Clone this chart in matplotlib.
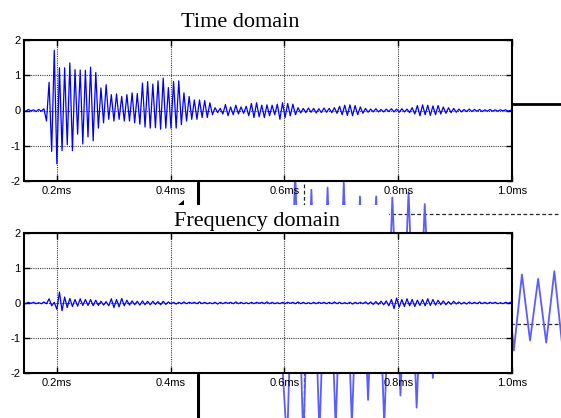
import matplotlib.pyplot as plt
from matplotlib.patches import Rectangle, Polygon
import numpy as np

plt.rcParams['font.family'] = 'Liberation Sans'
plt.rcParams['axes.unicode_minus'] = False

# time axis in ms, one entry per half period of the ringing
t_start = 0.1405
t_step = 0.00456

tick_ms = [0.2, 0.4, 0.6, 0.8, 1.0]
tick_labels = ['0.2ms', '0.4ms', '0.6ms', '0.8ms', '1.0ms']
y_ticks = [-2, -1, 0, 1, 2]

# alternating extremes
time_peaks = [
    0.02, -0.02, 0.03, -0.01, 0.02, -0.03, 0.03, -0.02, 0.05, -0.30,
    0.80, -1.16, 1.71, -1.51, 1.21, -1.14, 1.21, -0.97, 1.35, -1.14,
    1.16, -0.67, 1.15, -0.95, 1.14, -0.75, 1.23, -0.86, 1.08, -0.50,
    0.64, -0.35, 0.73, -0.25, 0.45, -0.30, 0.47, -0.25, 0.40, -0.30,
    0.45, -0.30, 0.50, -0.35, 0.48, -0.39, 0.78, -0.47, 0.82, -0.50,
    0.75, -0.49, 0.84, -0.53, 0.92, -0.50, 0.65, -0.50, 0.82, -0.50,
    0.84, -0.40, 0.50, -0.30, 0.40, -0.25, 0.30, -0.25, 0.30, -0.20,
    0.28, -0.20, 0.22, -0.12, 0.08, -0.06, 0.06, -0.10, 0.17, -0.15,
    0.10, -0.12, 0.15, -0.10, 0.10, -0.08, 0.12, -0.15, 0.20, -0.20,
    0.22, -0.18, 0.15, -0.20, 0.16, -0.15, 0.15, -0.12, 0.18, -0.25,
    0.22, -0.20, 0.20, -0.15, 0.18, -0.12, 0.08, -0.07, 0.06, -0.06,
    0.07, -0.05, 0.06, -0.07, 0.05, -0.06, 0.07, -0.05, 0.06, -0.06,
    0.08, -0.08, 0.12, -0.12, 0.15, -0.14, 0.16, -0.15, 0.14, -0.12,
    0.10, -0.08, 0.06, -0.05, 0.04, -0.04, 0.05, -0.04, 0.03, -0.04,
    0.04, -0.03, 0.05, -0.04, 0.04, -0.05, 0.05, -0.04, 0.04, -0.06,
    0.08, -0.10, 0.14, -0.15, 0.16, -0.12, 0.15, -0.14, 0.13, -0.12,
    0.14, -0.10, 0.10, -0.08, 0.08, -0.06, 0.06, -0.05, 0.04, -0.04,
    0.03, -0.03, 0.04, -0.03, 0.03, -0.02, 0.03, -0.03, 0.02, -0.02,
    0.03, -0.02, 0.02, -0.02, 0.02, -0.01, 0.02, -0.02, 0.01, -0.01,
]

# alternating extremes
freq_peaks = [
    0.01, -0.02, 0.02, -0.01, 0.02, -0.02, 0.01, -0.02, 0.03, -0.02,
    0.12, -0.08, 0.02, -0.18, 0.31, -0.22, 0.17, -0.13, 0.13, -0.10,
    0.10, -0.09, 0.12, -0.07, 0.10, -0.07, 0.10, -0.08, 0.08, -0.07,
    0.05, -0.06, 0.04, -0.08, 0.12, -0.13, 0.10, -0.11, 0.13, -0.08,
    0.08, -0.06, 0.06, -0.05, 0.05, -0.06, 0.06, -0.05, 0.05, -0.05,
    0.05, -0.04, 0.04, -0.05, 0.05, -0.04, 0.03, -0.02, 0.02, -0.03,
    0.02, -0.02, 0.03, -0.02, 0.02, -0.01, 0.02, -0.02, 0.03, -0.02,
    0.02, -0.02, 0.01, -0.02, 0.02, -0.03, 0.02, -0.02, 0.02, -0.01,
    0.02, -0.02, 0.03, -0.02, 0.02, -0.02, 0.01, -0.02, 0.02, -0.02,
    0.02, -0.01, 0.02, -0.02, 0.03, -0.02, 0.02, -0.02, 0.01, -0.02,
    0.02, -0.02, 0.02, -0.01, 0.02, -0.02, 0.03, -0.02, 0.02, -0.02,
    0.01, -0.02, 0.02, -0.02, 0.02, -0.01, 0.02, -0.02, 0.02, -0.02,
    0.03, -0.02, 0.02, -0.02, 0.01, -0.02, 0.02, -0.03, 0.02, -0.02,
    0.02, -0.02, 0.03, -0.03, 0.03, -0.04, 0.04, -0.04, 0.05, -0.05,
    0.06, -0.08, 0.10, -0.16, 0.14, -0.12, 0.10, -0.10, 0.12, -0.08,
    0.10, -0.10, 0.08, -0.07, 0.10, -0.08, 0.12, -0.07, 0.10, -0.06,
    0.08, -0.05, 0.06, -0.05, 0.04, -0.04, 0.05, -0.03, 0.03, -0.03,
    0.02, -0.03, 0.03, -0.02, 0.02, -0.02, 0.03, -0.02, 0.02, -0.02,
    0.02, -0.01, 0.02, -0.02, 0.01, -0.02, 0.02, -0.01, 0.02, -0.01,
]

# enlarged trace peeking out from behind the two panels
back_start = 0.764
back_step = 0.0764
back_peaks = [
    0.15, -1.10, 1.40, -1.05, 1.22, -1.00, 1.24, -0.95, 1.29, -0.92,
    1.16, -0.69, 1.16, -0.92, 1.15, -0.65, 1.20, -0.76, 1.09, -0.49,
    0.80, -0.40, 0.75, -0.35, 0.70, -0.30, 0.65, -0.30, 0.60, -0.24,
    0.45, -0.15, 0.41, -0.17, 0.48, -0.21, 0.44, -0.18,
]

W, H = 561, 418
fig = plt.figure(figsize=(W / 100, H / 100), dpi=100)


def rect(x0, y0, x1, y1):
    # pixel box (top-left origin) -> figure fraction
    return [x0 / W, 1 - y1 / H, (x1 - x0) / W, (y1 - y0) / H]


# background plot, mostly hidden
bg = fig.add_axes(rect(198, 104, 700, 544), zorder=0)
xb = back_start + back_step * np.arange(len(back_peaks))
bg.plot(xb, back_peaks, color='#5c5cff', lw=1.3)
bg.set_xlim(0, 4.736)
bg.set_ylim(-2, 2)
bg.set_xticks([1])
bg.set_yticks([-1, 0, 1])
bg.grid(True, color='0.15', linestyle=(0, (3, 2)), linewidth=0.9)
bg.tick_params(length=0, labelbottom=False, labelleft=False)
bg.spines['right'].set_visible(False)
bg.spines['bottom'].set_visible(False)
bg.spines['top'].set_linewidth(2.0)
bg.spines['left'].set_linewidth(2.2)

# white box behind the second title
fig.patches.append(Rectangle((165 / W, 1 - 233 / H), 224 / W, 28 / H,
                             transform=fig.transFigure, facecolor='white',
                             edgecolor='none', zorder=1))
fig.patches.append(Polygon([(178 / W, 1 - 205 / H), (184 / W, 1 - 205 / H),
                            (184 / W, 1 - 200 / H)], closed=True,
                           transform=fig.transFigure, facecolor='black',
                           edgecolor='none', zorder=1.5))


def panel(box, values):
    ax = fig.add_axes(box, zorder=2)
    t = t_start + t_step * np.arange(len(values))
    ax.plot(t, values, color='#0000ff', lw=0.9)
    ax.set_xlim(0.142, 1.0)
    ax.set_ylim(-2, 2)
    ax.set_xticks(tick_ms, tick_labels)
    ax.set_yticks(y_ticks)
    ax.grid(True, color='0.25', linestyle=(0, (1, 1)), linewidth=0.8)
    ax.tick_params(direction='in', top=True, right=True, length=4,
                   width=1, labelsize=8)
    ax.tick_params(axis='x', pad=3.5)
    ax.tick_params(axis='y', pad=2.5)
    for s in ax.spines.values():
        s.set_linewidth(1.5)
    return ax


ax1 = panel(rect(24, 40, 512, 181), time_peaks)
ax2 = panel(rect(24, 233, 512, 373), freq_peaks)

fig.text(240 / W, 1 - 27 / H, 'Time domain', ha='center', va='baseline',
         family='Liberation Serif', fontsize=16, zorder=3)
fig.text(256.5 / W, 1 - 226 / H, 'Frequency domain', ha='center',
         va='baseline', family='Liberation Serif', fontsize=16, zorder=3)

fig.savefig('out.png', dpi=100)
